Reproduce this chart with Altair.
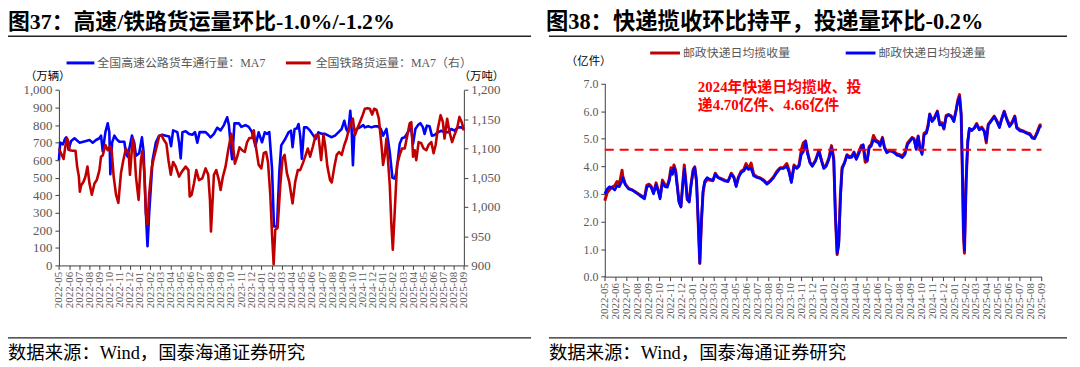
import altair as alt
import pandas as pd

# ---------------- data: left panel (图37) ----------------
hw_month = [0, 0.13, 0.4, 0.59, 0.72, 0.95, 1.21, 1.54, 2.03, 2.69, 3.02, 3.34, 3.67, 4.0, 4.16, 4.33,
            4.59, 4.82, 4.98, 5.08, 5.25, 5.48, 5.7, 5.97, 6.46, 6.62, 6.79, 7.21, 7.44, 7.61, 7.93, 8.2,
            8.36, 8.59, 8.75, 8.92, 9.25, 9.57, 9.9, 10.2, 10.56, 10.89, 11.08, 11.28, 11.7, 11.87, 12.03,
            12.2, 12.52, 12.85, 13.18, 13.44, 13.67, 13.9, 14.49, 14.75, 14.98, 15.31, 15.64, 15.97, 16.3,
            16.62, 16.79, 17.02, 17.11, 17.34, 17.77, 18.03, 18.43, 18.75, 19.08, 19.41, 19.73, 20.06,
            20.33, 20.55, 20.78, 21.05, 21.24, 21.54, 21.77, 21.96, 22.35, 22.68, 22.92, 23.08, 23.28,
            23.5, 23.67, 23.83, 24.0, 24.22, 24.49, 24.81, 25.14, 25.37, 25.63, 25.96, 26.29, 26.62,
            26.95, 27.27, 27.6, 27.93, 28.19, 28.38, 28.58, 28.78, 28.91, 29.04, 29.17, 29.4, 29.73,
            30.06, 30.22, 30.55, 30.88, 31.21, 31.53, 31.8, 32.02, 32.35, 32.68, 32.94, 33.17, 33.34,
            33.66, 33.89, 34.16, 34.48, 34.75, 34.98, 35.21, 35.47, 35.7, 35.96, 36.12, 36.35, 36.61,
            36.84, 37.11, 37.43, 37.76, 38.09, 38.42, 38.75, 39.07, 39.4, 39.73, 40.0]
hw_value = [600, 700, 690, 720, 730, 660, 710, 725, 700, 710, 715, 700, 715, 725, 740, 650,
            760, 810, 760, 520, 700, 740, 720, 705, 705, 640, 620, 740, 700, 625, 640, 730,
            650, 300, 110, 300, 600, 700, 740, 745, 740, 735, 680, 770, 760, 700, 610,
            760, 765, 750, 745, 760, 700, 760, 760, 745, 730, 750, 785, 770, 800,
            845, 800, 650, 605, 810, 810, 790, 800, 790, 760, 680, 759, 702,
            759, 750, 760, 552, 222, 222, 532, 684, 721, 759, 768, 674, 778,
            781, 806, 740, 608, 787, 787, 768, 740, 721, 759, 750, 750, 740,
            731, 740, 759, 778, 825, 778, 759, 881, 778, 571, 740, 778, 787,
            800, 787, 793, 787, 793, 793, 778, 740, 778, 646, 500, 495, 530,
            693, 725, 731, 759, 797, 693, 778, 800, 811, 787, 750, 797, 793,
            740, 744, 759, 768, 759, 759, 778, 768, 787, 787, 778]

rail_month = [0, 0.23, 0.46, 0.62, 0.79, 0.95, 1.05, 1.38, 1.64, 1.8, 1.97, 2.07, 2.2, 2.43, 2.62, 2.82,
              3.02, 3.25, 3.51, 3.74, 4.0, 4.16, 4.33, 4.59, 4.82, 5.05, 5.21, 5.41, 5.64, 5.87, 6.13,
              6.36, 6.62, 6.89, 7.02, 7.28, 7.44, 7.61, 7.87, 8.1, 8.26, 8.46, 8.59, 8.75, 8.92, 9.18,
              9.41, 9.64, 9.9, 10.13, 10.39, 10.62, 10.82, 11.05, 11.28, 11.54, 11.87, 12.13, 12.52,
              12.79, 12.92, 13.11, 13.34, 13.57, 13.84, 14.16, 14.49, 14.75, 14.92, 15.02, 15.15, 15.31,
              15.54, 15.8, 15.97, 16.2, 16.46, 16.72, 17.02, 17.18, 17.38, 17.61, 17.84, 18.1, 18.36,
              18.59, 18.82, 19.08, 19.25, 19.41, 19.73, 20.0, 20.23, 20.46, 20.65, 20.88, 21.05, 21.21,
              21.37, 21.6, 21.87, 22.09, 22.29, 22.52, 22.75, 23.08, 23.34, 23.6, 23.83, 24.1, 24.32,
              24.59, 24.81, 25.08, 25.37, 25.63, 25.9, 26.13, 26.29, 26.52, 26.78, 26.95, 27.21, 27.44,
              27.67, 27.93, 28.19, 28.42, 28.65, 28.85, 29.04, 29.24, 29.47, 29.73, 30.0, 30.22, 30.48,
              30.71, 30.94, 31.14, 31.37, 31.6, 31.86, 32.02, 32.19, 32.35, 32.68, 32.84, 32.98, 33.17,
              33.4, 33.66, 33.89, 34.16, 34.42, 34.65, 34.81, 34.98, 35.14, 35.3, 35.53, 35.79, 36.02,
              36.29, 36.51, 36.78, 37.01, 37.21, 37.43, 37.7, 37.93, 38.09, 38.35, 38.58, 38.84, 39.07,
              39.33, 39.56, 39.79, 40.0]
rail_value = [1100, 1091, 1082, 1102, 1118, 1111, 1097, 1096, 1096, 1069, 1052, 1026, 1037, 1043, 1052, 1069,
              1040, 1021, 1040, 1046, 1063, 1086, 1088, 1106, 1097, 1104, 1097, 1052, 1021, 1007, 1058,
              1080, 1100, 1091, 1055, 1117, 1100, 1052, 1012, 1080, 1097, 1052, 989, 970, 1023, 1069,
              1086, 1102, 1121, 1123, 1114, 1108, 1080, 1055, 1077, 1069, 1052, 1060, 1069,
              1063, 1018, 1021, 1040, 1063, 1046, 1049, 1066, 1055, 1012, 958, 1001, 1055,
              1063, 1046, 1029, 1052, 1069, 1097, 1125, 1108, 1074, 1086, 1102, 1097, 1094,
              1111, 1118, 1118, 1131, 1108, 1072, 1066, 1092, 1094, 1077, 1021, 953, 902,
              961, 964, 1038, 1083, 1089, 1058, 1043, 1006, 1043, 1063, 1063, 1075, 1086,
              1100, 1086, 1103, 1123, 1123, 1080, 1123, 1106, 1069, 1046, 1042, 1069, 1089,
              1094, 1089, 1106, 1117, 1134, 1143, 1151, 1123, 1134, 1145, 1157, 1168, 1169,
              1168, 1158, 1168, 1166, 1151, 1106, 1072, 1089, 1117, 1038, 970, 927, 992,
              1072, 1089, 1100, 1100, 1123, 1143, 1145, 1086, 1097, 1080, 1111, 1109, 1100,
              1097, 1106, 1111, 1092, 1106, 1134, 1157, 1145, 1117, 1151, 1128, 1111, 1123,
              1134, 1154, 1145, 1131]

# ---------------- data: right panel (图38) ----------------
exp_month = [0, 0.22, 0.43, 0.67, 0.91, 1.12, 1.33, 1.58, 1.64, 1.88, 2.18, 2.49, 2.79, 3.09, 3.4, 3.64,
             3.85, 4.06, 4.24, 4.46, 4.7, 4.91, 5.06, 5.28, 5.52, 5.73, 5.91, 6.06, 6.21, 6.33, 6.49,
             6.64, 6.79, 6.97, 7.12, 7.28, 7.4, 7.55, 7.73, 7.88, 8.09, 8.24, 8.4, 8.55, 8.7, 8.85, 9.0,
             9.15, 9.37, 9.61, 9.91, 10.12, 10.37, 10.67, 10.97, 11.28, 11.58, 11.82, 12.03, 12.24,
             12.49, 12.73, 12.94, 13.15, 13.4, 13.64, 13.94, 14.24, 14.55, 14.85, 15.15, 15.46, 15.76,
             16.06, 16.36, 16.67, 16.88, 17.09, 17.33, 17.58, 17.79, 18.0, 18.18, 18.39, 18.55, 18.79,
             19.0, 19.3, 19.61, 19.85, 20.06, 20.28, 20.52, 20.76, 20.97, 21.12, 21.28, 21.43, 21.58,
             21.73, 21.97, 22.18, 22.39, 22.64, 22.82, 23.03, 23.24, 23.49, 23.67, 23.85, 24.03, 24.21,
             24.4, 24.61, 24.82, 25.06, 25.21, 25.43, 25.61, 25.82, 26.06, 26.27, 26.52, 26.76, 27.03,
             27.24, 27.49, 27.73, 27.94, 28.15, 28.33, 28.52, 28.7, 28.88, 29.06, 29.24, 29.46, 29.61,
             29.76, 29.97, 30.21, 30.46, 30.67, 30.88, 31.06, 31.27, 31.49, 31.73, 31.97, 32.18, 32.33,
             32.49, 32.64, 32.76, 32.85, 32.94, 33.09, 33.24, 33.39, 33.61, 33.85, 34.06, 34.3, 34.52,
             34.76, 34.94, 35.12, 35.36, 35.67, 35.91, 36.15, 36.33, 36.58, 36.82, 37.06, 37.3, 37.55,
             37.73, 38.03, 38.33, 38.64, 38.94, 39.15, 39.36, 39.61, 39.85, 40.0]
deliver_value = [3.0, 3.18, 3.26, 3.22, 3.14, 3.3, 3.26, 3.47, 3.59, 3.33, 3.18, 3.14, 3.06, 2.98, 2.88, 2.82,
                 3.24, 3.3, 3.24, 3.0, 3.33, 3.06, 2.82, 3.41, 3.26, 3.24, 3.47, 3.83, 3.71, 3.95, 3.77,
                 3.24, 2.7, 2.52, 3.24, 3.89, 3.47, 2.82, 2.7, 3.24, 3.83, 3.95, 3.47, 2.05, 0.5, 2.05, 3.12,
                 3.47, 3.59, 3.53, 3.5, 3.71, 3.59, 3.53, 3.47, 3.45, 3.71, 3.59, 3.26, 3.59,
                 3.77, 3.83, 3.97, 3.89, 3.92, 3.65, 3.59, 3.56, 3.47, 3.35, 3.45, 3.59, 3.77,
                 3.92, 3.92, 4.0, 3.77, 3.41, 4.0, 3.92, 4.0, 4.43, 4.52, 4.9, 4.48, 4.13,
                 4.0, 4.19, 4.55, 4.19, 3.92, 4.0, 4.25, 4.67, 4.2, 2.28, 0.85, 1.15, 2.8,
                 3.89, 4.13, 4.4, 4.31, 4.33, 4.49, 4.25, 4.43, 4.67, 4.79, 4.31, 4.19, 4.67,
                 4.73, 4.96, 4.9, 4.85, 4.73, 5.02, 4.67, 4.49, 4.55, 4.55, 4.49, 4.4, 4.37,
                 4.31, 4.43, 4.79, 4.9, 5.02, 4.96, 4.61, 5.08, 4.61, 4.43, 5.14, 5.2, 5.44,
                 5.88, 5.62, 5.74, 5.98, 5.5, 5.52, 5.38, 5.8, 5.86, 5.8, 5.62, 6.03, 6.33,
                 6.51, 5.86, 3.71, 1.69, 0.97, 3.47, 4.9, 5.38, 5.32, 5.38, 5.52, 5.32, 5.38,
                 5.26, 4.93, 5.5, 5.62, 5.8, 5.62, 5.4, 5.68, 5.98, 5.68, 5.44, 5.56, 5.8,
                 5.38, 5.28, 5.26, 5.2, 5.14, 5.02, 5.0, 5.2, 5.44, 5.46]
collect_value = [2.75, 3.05, 3.15, 3.25, 3.3, 3.45, 3.35, 3.86, 3.65, 3.35, 3.2, 3.15, 3.08, 3.0, 2.92, 2.88,
                 3.32, 3.35, 3.28, 3.05, 3.4, 3.1, 2.88, 3.5, 3.32, 3.3, 3.55, 3.95, 3.8, 4.05, 3.85,
                 3.3, 2.75, 2.55, 3.3, 4.05, 3.55, 2.8, 2.72, 3.3, 3.88, 3.98, 3.45, 2.0, 0.48, 2.0, 3.05,
                 3.4, 3.52, 3.5, 3.48, 3.75, 3.6, 3.55, 3.5, 3.45, 3.75, 3.62, 3.3, 3.62,
                 3.82, 3.88, 4.1, 3.9, 4.12, 3.7, 3.62, 3.58, 3.5, 3.38, 3.48, 3.62, 3.82,
                 3.95, 3.95, 4.1, 3.85, 3.45, 4.05, 3.95, 4.05, 4.6, 4.85, 4.92, 4.55, 4.15,
                 4.02, 4.22, 4.58, 4.22, 3.95, 4.05, 4.3, 4.75, 4.3, 2.2, 0.8, 1.3, 3.0,
                 3.95, 4.15, 4.42, 4.35, 4.38, 4.52, 4.28, 4.5, 4.75, 4.72, 4.15, 4.2, 4.72,
                 4.8, 5.12, 4.95, 4.9, 4.78, 5.05, 4.7, 4.55, 4.58, 4.55, 4.52, 4.45, 4.42,
                 4.38, 4.5, 4.85, 4.95, 5.05, 5.0, 4.65, 5.1, 4.65, 4.5, 5.2, 5.25, 5.5,
                 5.9, 5.68, 5.78, 6.0, 5.55, 5.58, 5.35, 5.85, 5.88, 5.82, 5.65, 6.05, 6.4,
                 6.6, 5.9, 3.6, 1.5, 0.85, 3.4, 4.85, 5.35, 5.3, 5.4, 5.55, 5.35, 5.42,
                 5.28, 4.85, 5.52, 5.65, 5.82, 5.65, 5.45, 5.7, 6.0, 5.72, 5.5, 5.6, 5.82,
                 5.42, 5.32, 5.28, 5.22, 5.18, 5.05, 5.02, 5.25, 5.5, 5.5]
ref_level = [4.6]

month_labels = [f"{2022 + (i + 4) // 12}-{(i + 4) % 12 + 1:02d}" for i in range(41)]
label_expr = "[" + ",".join(f"'{s}'" for s in month_labels) + "][datum.value]"

# ---------------- layout (pixels, chart coordinates) ----------------
W, H = 1072, 359
LX0, LX1, LY0, LY1 = 51.3, 459.3, 258.0, 81.3
RX0, RX1, RY0, RY1 = 601.3, 1041.3, 269.3, 74.8
FONT = "Liberation Serif, Noto Sans CJK SC"
NUMFONT = "Liberation Serif"
GREY = "#595959"
AXC = "#404040"


def x_axis(offset):
    return alt.Axis(orient="bottom", offset=offset, values=list(range(41)), labelExpr=label_expr,
                    labelAngle=270, labelFontSize=11, labelFont=NUMFONT, labelColor=GREY,
                    labelOverlap=False, labelPadding=2, tickSize=4, tickColor=AXC,
                    domainColor=AXC, grid=False, title=None)


def y_axis(orient, offset, values, fmt, size):
    return alt.Axis(orient=orient, offset=offset, values=values, format=fmt,
                    labelFontSize=size, labelFont=NUMFONT, labelColor=GREY, labelPadding=3,
                    tickSize=4, tickColor=AXC, domainColor=AXC, grid=False, title=None)


# ---------- left panel ----------
hw_df = pd.DataFrame({"m": hw_month, "v": hw_value})
rail_df = pd.DataFrame({"m": rail_month, "v": rail_value})

xL = alt.X("m:Q", scale=alt.Scale(domain=[0, 40], range=[LX0, LX1], nice=False, zero=False),
           axis=x_axis(LY0 - H))
yL = alt.Y("v:Q", scale=alt.Scale(domain=[0, 1000], range=[LY0, LY1], nice=False, zero=False),
           axis=y_axis("left", -LX0, list(range(0, 1001, 100)), ",d", 13))
yLR = alt.Y("v:Q", scale=alt.Scale(domain=[900, 1200], range=[LY0, LY1], nice=False, zero=False),
            axis=y_axis("right", LX1 - W, list(range(900, 1201, 50)), ",d", 13))

hw_line = alt.Chart(hw_df).mark_line(color="#0000FF", strokeWidth=2.6, strokeJoin="round").encode(x=xL, y=yL)
rail_line = alt.Chart(rail_df).mark_line(color="#C00000", strokeWidth=2.6, strokeJoin="round").encode(x=xL, y=yLR)
left_panel = alt.layer(hw_line, rail_line).resolve_scale(y="independent")

# ---------- right panel ----------
collect_df = pd.DataFrame({"m": exp_month, "v": collect_value})
deliver_df = pd.DataFrame({"m": exp_month, "v": deliver_value})
ref_df = pd.DataFrame({"m": [0], "m2": [40], "v": ref_level})

xR = alt.X("m:Q", scale=alt.Scale(domain=[0, 40], range=[RX0, RX1], nice=False, zero=False),
           axis=x_axis(RY0 - H))
yR = alt.Y("v:Q", scale=alt.Scale(domain=[0, 7], range=[RY0, RY1], nice=False, zero=False),
           axis=y_axis("left", -RX0, list(range(0, 8)), ".1f", 12))

collect_line = alt.Chart(collect_df).mark_line(color="#C00000", strokeWidth=3, strokeJoin="round").encode(x=xR, y=yR)
deliver_line = alt.Chart(deliver_df).mark_line(color="#0000FF", strokeWidth=2.6, strokeJoin="round").encode(x=xR, y=yR)
ref_rule = alt.Chart(ref_df).mark_rule(color="#FF0000", strokeWidth=2, strokeDash=[9, 6]).encode(
    x=xR, x2=alt.X2("m2"), y=yR)
right_panel = alt.layer(collect_line, deliver_line, ref_rule)

# ---------- decorations ----------
one = pd.DataFrame({"d": [0]})


def text(s, x, y, size, color="#000000", weight="normal", align="left"):
    return alt.Chart(one).mark_text(align=align, baseline="middle", font=FONT, fontSize=size,
                                    color=color, fontWeight=weight).encode(
        x=alt.value(x), y=alt.value(y), text=alt.value(s))


def hline(x0, x1, y, color="#222222", width=1.5):
    return alt.Chart(one).mark_rule(color=color, strokeWidth=width).encode(
        x=alt.value(x0), x2=alt.value(x1), y=alt.value(y))


decor = [
    # left panel
    text("图37：高速/铁路货运量环比-1.0%/-1.2%", 0, 13, 22, weight="bold"),
    hline(0, 527, 27),
    hline(59, 87, 54, color="#0000FF", width=3),
    text("全国高速公路货车通行量：MA7", 90, 54, 12, color=GREY),
    hline(280, 305, 54, color="#C00000", width=3),
    text("全国铁路货运量：MA7（右）", 310, 54, 12, color=GREY),
    text("（万辆）", 40, 68, 11.5, align="center"),
    text("（万吨）", 477, 68, 11.5, align="center"),
    hline(0, 527, 331),
    text("数据来源：Wind，国泰海通证券研究", 0, 346, 18.5),
    # right panel
    text("图38：快递揽收环比持平，投递量环比-0.2%", 542, 13, 22.5, weight="bold"),
    hline(545, 1067, 27),
    hline(647, 677, 44, color="#C00000", width=3),
    text("邮政快递日均揽收量", 680, 44, 12, color=GREY),
    hline(844, 874, 44, color="#0000FF", width=3),
    text("邮政快递日均投递量", 877, 44, 12, color=GREY),
    text("（亿件）", 585, 53, 11.5, align="center"),
    text("2024年快递日均揽收、投", 695, 78, 15, color="#FF0000", weight="bold"),
    text("递4.70亿件、4.66亿件", 695, 96, 15, color="#FF0000", weight="bold"),
    hline(545, 1067, 331),
    text("数据来源：Wind，国泰海通证券研究", 545, 346, 18.5),
]

chart = alt.layer(left_panel, right_panel, *decor).resolve_scale(
    x="independent", y="independent"
).properties(
    width=W, height=H, padding=0, autosize=alt.AutoSizeParams(type="none")
).configure_view(strokeWidth=0)

chart.save("out.html", embed_options={"renderer": "svg", "actions": False})
